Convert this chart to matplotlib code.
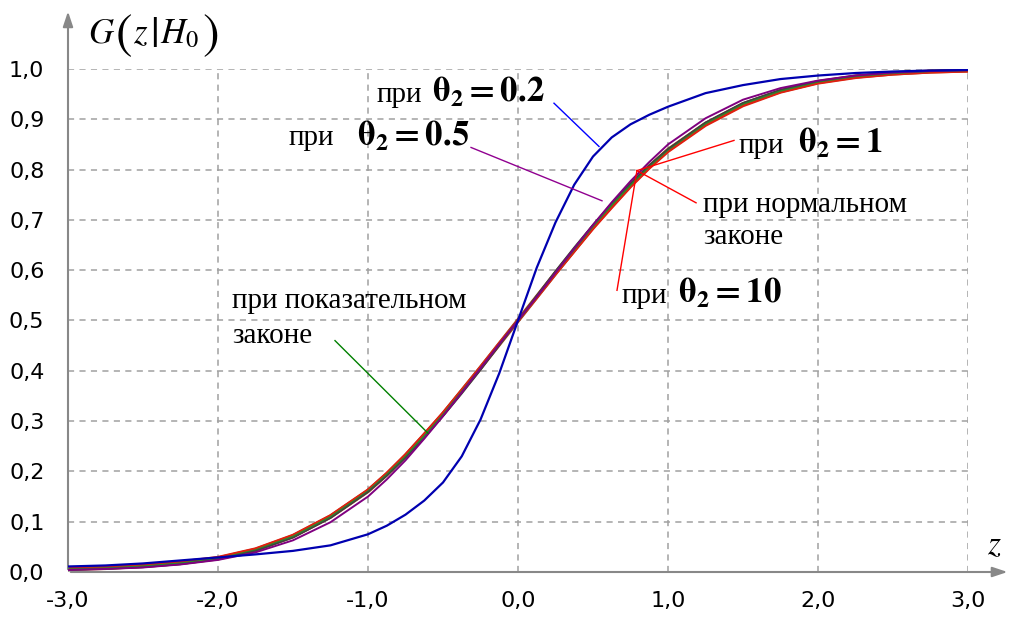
import matplotlib
matplotlib.use("Agg")
import matplotlib.pyplot as plt
from matplotlib.ticker import FuncFormatter, MultipleLocator

z = [-3.0, -2.75, -2.5, -2.25, -2.0, -1.75, -1.5, -1.25,
     -1.0, -0.875, -0.75, -0.625, -0.5, -0.375, -0.25, -0.125,
     0.0, 0.125, 0.25, 0.375, 0.5, 0.625, 0.75, 0.875,
     1.0, 1.25, 1.5, 1.75, 2.0, 2.25, 2.5, 2.75, 3.0]

g_theta02 = [0.011, 0.013, 0.017, 0.023, 0.029, 0.035, 0.042, 0.053,
             0.075, 0.092, 0.114, 0.142, 0.178, 0.230, 0.303, 0.395,
             0.500, 0.605, 0.695, 0.770, 0.826, 0.864, 0.890, 0.909,
             0.925, 0.952, 0.968, 0.980, 0.987, 0.992, 0.995, 0.997, 0.998]
g_theta05 = [0.004, 0.006, 0.009, 0.015, 0.024, 0.039, 0.063, 0.099,
             0.150, 0.184, 0.222, 0.265, 0.310, 0.357, 0.405, 0.453,
             0.500, 0.547, 0.595, 0.643, 0.690, 0.735, 0.777, 0.815,
             0.850, 0.902, 0.939, 0.962, 0.977, 0.987, 0.993, 0.996, 0.998]
g_theta1 = [0.007, 0.010, 0.014, 0.020, 0.029, 0.046, 0.073, 0.112,
            0.163, 0.196, 0.233, 0.274, 0.316, 0.361, 0.407, 0.454,
            0.500, 0.546, 0.593, 0.638, 0.683, 0.725, 0.766, 0.803,
            0.836, 0.888, 0.927, 0.954, 0.972, 0.983, 0.990, 0.994, 0.996]
g_theta10 = [0.006, 0.008, 0.012, 0.018, 0.027, 0.044, 0.071, 0.110,
             0.161, 0.194, 0.231, 0.272, 0.314, 0.360, 0.406, 0.453,
             0.500, 0.547, 0.594, 0.640, 0.686, 0.728, 0.769, 0.806,
             0.839, 0.891, 0.930, 0.956, 0.974, 0.985, 0.991, 0.995, 0.997]
g_normal = [0.004, 0.006, 0.009, 0.015, 0.025, 0.042, 0.068, 0.107,
            0.159, 0.191, 0.227, 0.266, 0.309, 0.354, 0.401, 0.450,
            0.500, 0.550, 0.599, 0.646, 0.691, 0.734, 0.773, 0.809,
            0.841, 0.894, 0.933, 0.959, 0.976, 0.987, 0.993, 0.996, 0.998]
g_exp = [0.005, 0.007, 0.011, 0.017, 0.026, 0.043, 0.070, 0.109,
         0.160, 0.193, 0.229, 0.270, 0.312, 0.358, 0.404, 0.452,
         0.500, 0.548, 0.596, 0.642, 0.688, 0.730, 0.770, 0.807,
         0.840, 0.892, 0.931, 0.957, 0.975, 0.986, 0.992, 0.996, 0.998]

x_ticks = [-3.0, -2.0, -1.0, 0.0, 1.0, 2.0, 3.0]

plt.rcParams["mathtext.fontset"] = "stix"

fig = plt.figure(figsize=(10.12, 6.22), dpi=100)
ax = fig.add_axes([68 / 1012, 50 / 622, 900 / 1012, 503 / 622])

ax.plot(z, g_theta10, color="#a0401a", lw=3.0, zorder=3)
ax.plot(z, g_theta1, color="#e02010", lw=2.2, zorder=3)
ax.plot(z, g_exp, color="#2a8a2a", lw=1.6, zorder=4)
ax.plot(z, g_normal, color="#404040", lw=1.0, zorder=4)
ax.plot(z, g_theta05, color="#800080", lw=1.4, zorder=4)
ax.plot(z, g_theta02, color="#0000b0", lw=1.6, zorder=5)

ax.set_xlim(-3, 3)
ax.set_ylim(0, 1)
ax.yaxis.set_major_locator(MultipleLocator(0.1))
fmt = FuncFormatter(lambda v, p: f"{v:.1f}".replace(".", ","))
ax.xaxis.set_major_formatter(fmt)
ax.yaxis.set_major_formatter(fmt)
ax.set_xticks(x_ticks)
ax.grid(True, color="#a0a0a0", lw=1.1, linestyle=(0, (4, 3.5)))
ax.tick_params(length=0, labelsize=16, colors="black")
ax.tick_params(axis="y", pad=17)
ax.tick_params(axis="x", pad=14)
for s in ax.spines.values():
    s.set_visible(False)

# axes with arrows
ax.annotate("", xy=(1.047, 0.0), xytext=(0.0, 0.0), xycoords="axes fraction",
            arrowprops=dict(arrowstyle="-|>,head_length=0.9,head_width=0.3", color="#888888", lw=1.5),
            annotation_clip=False)
ax.annotate("", xy=(0.0, 1.12), xytext=(0.0, 0.0), xycoords="axes fraction",
            arrowprops=dict(arrowstyle="-|>,head_length=0.9,head_width=0.3", color="#888888", lw=1.5),
            annotation_clip=False)

# G(z|H0) with tall brackets, built from pieces
base = 1.052
mid = 1.068
letters = dict(va="baseline", ha="left", clip_on=False, fontsize=25)
brackets = dict(va="center", ha="left", clip_on=False)
ax.text(-2.867, base, r"$G$", **letters)
ax.text(-2.69, mid, r"$($", fontsize=36, **brackets)
ax.text(-2.57, base, r"$z$", **letters)
ax.text(-2.455, mid, r"$|$", fontsize=31, **brackets)
ax.text(-2.39, base, r"$H_0$", **letters)
ax.text(-2.11, mid, r"$)$", fontsize=36, **brackets)

ax.text(3.127, 0.054, r"$z$", fontsize=24, va="center", ha="left", clip_on=False)

# leader lines
leaders = [
    ((0.24, 0.932), (0.54, 0.846), "#0000ff"),
    ((-0.313, 0.844), (0.56, 0.738), "#900090"),
    ((1.44, 0.858), (0.793, 0.798), "#ff0000"),
    ((1.187, 0.734), (0.793, 0.798), "#ff0000"),
    ((0.66, 0.56), (0.793, 0.798), "#ff0000"),
    ((-1.22, 0.46), (-0.6, 0.276), "#008000"),
]
for (x0, y0), (x1, y1), c in leaders:
    ax.plot([x0, x1], [y0, y1], color=c, lw=1.0, zorder=6)

serif = "Liberation Serif"
ru = dict(fontsize=21, family=serif, va="baseline", ha="left")
th = dict(fontsize=25, va="baseline", ha="left")

ax.text(-0.94, 0.935, "при", **ru)
ax.text(-0.573, 0.935, r"$\mathbf{\theta_2 = 0.2}$", **th)
ax.text(-1.533, 0.848, "при", **ru)
ax.text(-1.073, 0.848, r"$\mathbf{\theta_2 = 0.5}$", **th)
ax.text(1.473, 0.833, "при", **ru)
ax.text(1.867, 0.833, r"$\mathbf{\theta_2 = 1}$", **th)
ax.text(0.693, 0.535, "при", **ru)
ax.text(1.067, 0.535, r"$\mathbf{\theta_2 = 10}$", **th)
ax.text(1.233, 0.716, "при нормальном", **ru)
ax.text(1.233, 0.652, "законе", **ru)
ax.text(-1.907, 0.525, "при показательном", **ru)
ax.text(-1.907, 0.455, "законе", **ru)

fig.savefig("out.png", dpi=100)
